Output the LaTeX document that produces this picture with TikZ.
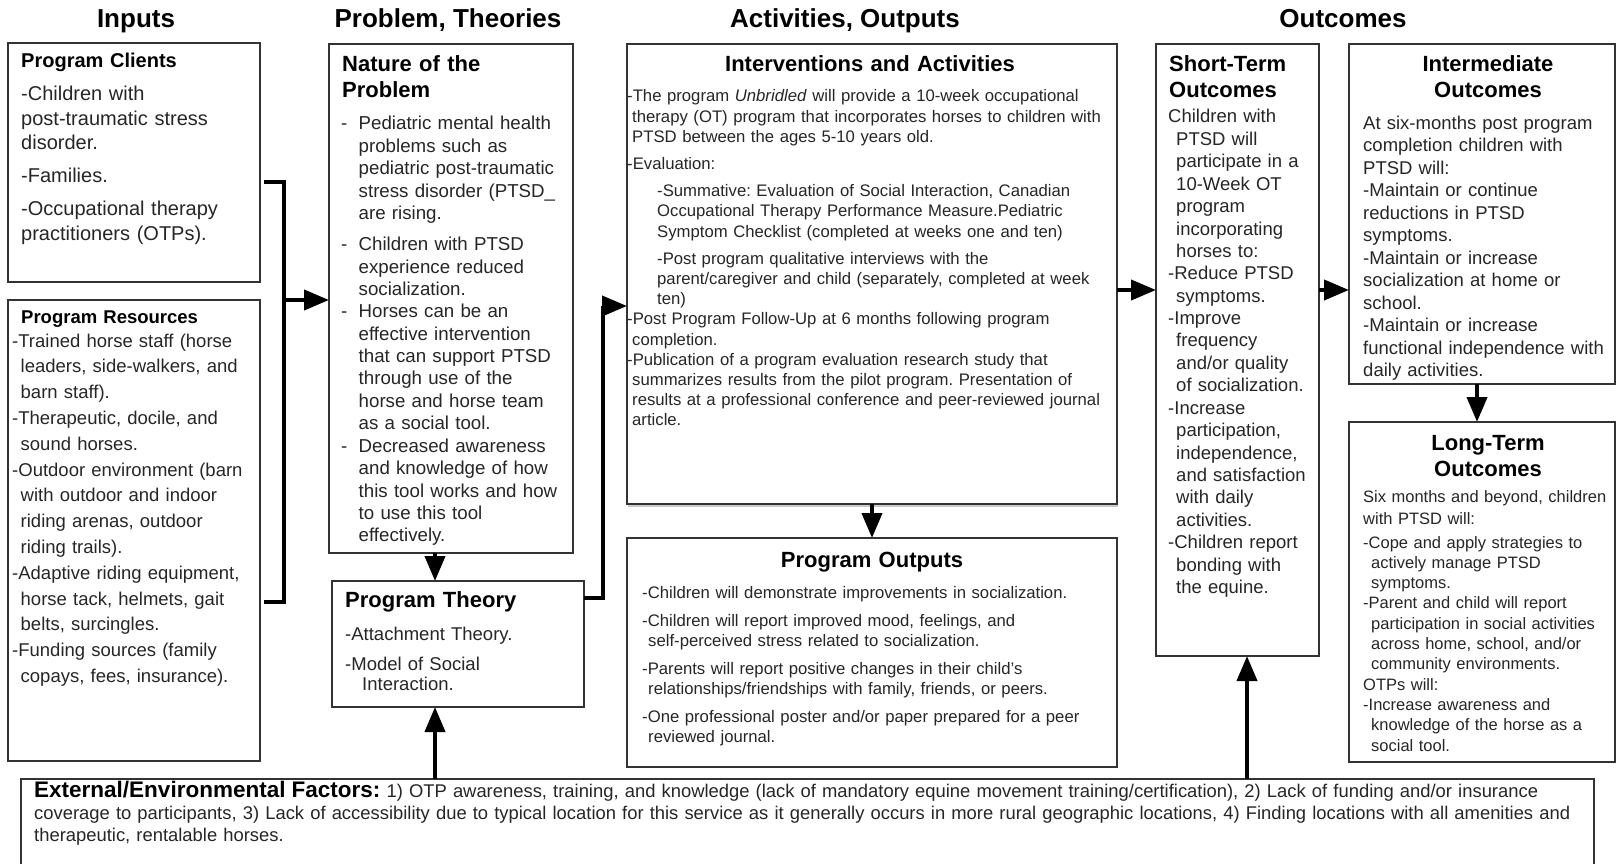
\documentclass[tikz,border=0pt]{standalone}
\usepackage{fontspec}
\setmainfont{Liberation Sans}
\usetikzlibrary{arrows.meta,calc,shadows}
\newcommand\myind[1]{\hspace*{#1pt}}
\newcommand\mybul{\makebox[17.5pt][l]{-}}
\frenchspacing
\begin{document}
\frenchspacing
\begin{tikzpicture}[x=1pt,y=-1pt,
  box/.style={draw=black!80,line width=1.5pt,fill=white,inner sep=0pt,outer sep=0pt,anchor=north west},
  hdr/.style={anchor=base,inner sep=0pt,font=\fontsize{26}{30}\selectfont\bfseries},
  ttl/.style={anchor=base west,inner sep=0pt,align=left,text width=#1},
  ctl/.style={anchor=base,inner sep=0pt,align=center,text width=#1,font=\fontsize{22}{26}\selectfont\bfseries},
  txt/.style={anchor=base west,inner sep=0pt,align=left,text width=#1,text=black!85},
  conn/.style={line width=4pt,black},
  arr/.style={conn,-{Triangle[length=25pt,width=20pt]}}]
\fill[white] (0,0) rectangle (1616,864);
\useasboundingbox (0,0) rectangle (1616,864);

% headers
\node[hdr] (hIn) at (136,28) {Inputs};
\node[hdr] (hPr) at (448,28) {Problem, Theories};
\node[hdr] (hAc) at (845,28) {Activities, Outputs};
\node[hdr] (hOu) at (1343,28) {Outcomes};

% boxes
\node[box,minimum width=252pt,minimum height=239pt] (clients) at (8,43) {};
\node[box,minimum width=252pt,minimum height=461pt] (resources) at (8,300) {};
\node[box,minimum width=244pt,minimum height=509pt] (nature) at (329,44) {};
\node[box,minimum width=252pt,minimum height=126pt] (theory) at (332,581) {};
\node[box,minimum width=490pt,minimum height=460pt,drop shadow={shadow xshift=0.5pt,shadow yshift=-2.5pt,opacity=0.35,fill=black!60}] (interv) at (627,44) {};
\node[box,minimum width=490pt,minimum height=229pt] (outputs) at (627,538) {};
\node[box,minimum width=163pt,minimum height=612pt] (short) at (1156,44) {};
\node[box,minimum width=266pt,minimum height=340pt] (inter) at (1349,44) {};
\node[box,minimum width=266pt,minimum height=340pt] (long) at (1349,422) {};
\node[box,minimum width=1573pt,minimum height=88pt] (external) at (21,779) {};

% Program Clients
\node[ttl=235pt,font=\fontsize{20}{24}\selectfont\bfseries] (clientsT) at (21,68) {Program Clients};
\node[txt=236pt,font=\fontsize{20}{24.5}\selectfont] (clientsB) at (21,101) {%
-Children with\\
post-traumatic stress\\
disorder.\\[8.5pt]
-Families.\\[8pt]
-Occupational therapy\\
practitioners (OTPs).};

% Program Resources
\node[ttl=235pt,font=\fontsize{18.5}{22}\selectfont\bfseries] (resT) at (21,323) {Program Resources};
\node[txt=245pt,font=\fontsize{18.5}{25.8}\selectfont] (resB) at (12,347) {%
-Trained horse staff (horse\\
\myind{8.5}leaders, side-walkers, and\\
\myind{8.5}barn staff).\\
-Therapeutic, docile, and\\
\myind{8.5}sound horses.\\
-Outdoor environment (barn\\
\myind{8.5}with outdoor and indoor\\
\myind{8.5}riding arenas, outdoor\\
\myind{8.5}riding trails).\\
-Adaptive riding equipment,\\
\myind{8.5}horse tack, helmets, gait\\
\myind{8.5}belts, surcingles.\\
-Funding sources (family\\
\myind{8.5}copays, fees, insurance).};

% Nature of the Problem
\node[ttl=225pt,font=\fontsize{22}{26}\selectfont\bfseries] (natT) at (342,72) {Nature of the\\Problem};
\node[txt=228pt,font=\fontsize{18.7}{22.4}\selectfont] (natB) at (341,130) {%
\mybul Pediatric mental health\\
\myind{17.5}problems such as\\
\myind{17.5}pediatric post-traumatic\\
\myind{17.5}stress disorder (PTSD\_\\
\myind{17.5}are rising.\\[8.6pt]
\mybul Children with PTSD\\
\myind{17.5}experience reduced\\
\myind{17.5}socialization.\\
\mybul Horses can be an\\
\myind{17.5}effective intervention\\
\myind{17.5}that can support PTSD\\
\myind{17.5}through use of the\\
\myind{17.5}horse and horse team\\
\myind{17.5}as a social tool.\\
\mybul Decreased awareness\\
\myind{17.5}and knowledge of how\\
\myind{17.5}this tool works and how\\
\myind{17.5}to use this tool\\
\myind{17.5}effectively.};

% Program Theory
\node[ttl=235pt,font=\fontsize{22}{26}\selectfont\bfseries] (thT) at (345,607) {Program Theory};
\node[txt=235pt,font=\fontsize{18.5}{20}\selectfont] (thB) at (345,640) {%
-Attachment Theory.\\[10pt]
-Model of Social\\
\myind{17}Interaction.};

% Interventions and Activities
\node[ctl=480pt] (intT) at (870,72) {Interventions and Activities};
\node[txt=487pt,font=\fontsize{16.7}{20.2}\selectfont] (intB) at (627,102) {%
-The program \textit{Unbridled} will provide a 10-week occupational\\
\myind{5}therapy (OT) program that incorporates horses to children with\\
\myind{5}PTSD between the ages 5-10 years old.\\[7pt]
-Evaluation:\\[7pt]
\myind{30}-Summative: Evaluation of Social Interaction, Canadian\\
\myind{30}Occupational Therapy Performance Measure.Pediatric\\
\myind{30}Symptom Checklist (completed at weeks one and ten)\\[7pt]
\myind{30}-Post program qualitative interviews with the\\
\myind{30}parent/caregiver and child (separately, completed at week\\
\myind{30}ten)\\
-Post Program Follow-Up at 6 months following program\\
\myind{5}completion.\\
-Publication of a program evaluation research study that\\
\myind{5}summarizes results from the pilot program. Presentation of\\
\myind{5}results at a professional conference and peer-reviewed journal\\
\myind{5}article.};

% Program Outputs
\node[ctl=480pt] (outT) at (872,567) {Program Outputs};
\node[txt=470pt,font=\fontsize{16.7}{20}\selectfont] (outB) at (642,598) {%
-Children will demonstrate improvements in socialization.\\[8.5pt]
-Children will report improved mood, feelings, and\\
\myind{6}self-perceived stress related to socialization.\\[8pt]
-Parents will report positive changes in their child’s\\
\myind{6}relationships/friendships with family, friends, or peers.\\[8pt]
-One professional poster and/or paper prepared for a peer\\
\myind{6}reviewed journal.};

% Short-Term Outcomes
\node[ttl=150pt,font=\fontsize{22}{26}\selectfont\bfseries] (shT) at (1169,72) {Short-Term\\Outcomes};
\node[txt=150pt,font=\fontsize{18.5}{22.4}\selectfont] (shB) at (1168,123) {%
Children with\\
\myind{8}PTSD will\\
\myind{8}participate in a\\
\myind{8}10-Week OT\\
\myind{8}program\\
\myind{8}incorporating\\
\myind{8}horses to:\\
-Reduce PTSD\\
\myind{8}symptoms.\\
-Improve\\
\myind{8}frequency\\
\myind{8}and/or quality\\
\myind{8}of socialization.\\
-Increase\\
\myind{8}participation,\\
\myind{8}independence,\\
\myind{8}and satisfaction\\
\myind{8}with daily\\
\myind{8}activities.\\
-Children report\\
\myind{8}bonding with\\
\myind{8}the equine.};

% Intermediate Outcomes
\node[ctl=250pt] (imT) at (1488,72) {Intermediate\\Outcomes};
\node[txt=250pt,font=\fontsize{18.5}{22.5}\selectfont] (imB) at (1363,129) {%
At six-months post program\\
completion children with\\
PTSD will:\\
-Maintain or continue\\
reductions in PTSD\\
symptoms.\\
-Maintain or increase\\
socialization at home or\\
school.\\
-Maintain or increase\\
functional independence with\\
daily activities.};

% Long-Term Outcomes
\node[ctl=250pt] (ltT) at (1488,450) {Long-Term\\Outcomes};
\node[txt=250pt,font=\fontsize{16.5}{20.3}\selectfont] (ltB) at (1363,502) {%
Six months and beyond, children\\[1.7pt]
with PTSD will:\\[3.7pt]
-Cope and apply strategies to\\
\myind{8}actively manage PTSD\\
\myind{8}symptoms.\\
-Parent and child will report\\
\myind{8}participation in social activities\\
\myind{8}across home, school, and/or\\
\myind{8}community environments.\\
OTPs will:\\
-Increase awareness and\\
\myind{8}knowledge of the horse as a\\
\myind{8}social tool.};

% External factors
\node[txt=1558pt,font=\fontsize{18.4}{22}\selectfont] (extB) at (34,797) {%
{\color{black}\fontsize{22.5}{22}\selectfont\bfseries External/Environmental Factors:} 1) OTP awareness, training, and knowledge (lack of mandatory equine movement training/certification), 2) Lack of funding and/or insurance\\
coverage to participants, 3) Lack of accessibility due to typical location for this service as it generally occurs in more rural geographic locations, 4) Finding locations with all amenities and\\
therapeutic, rentalable horses.};

% connectors
\coordinate (bkT) at (284,182);
\coordinate (bkB) at (284,602);
\coordinate (bkM) at (284,300);
\draw[conn] ($(clients.east |- bkT)+(4,0)$) -- (bkT) -- (bkB) -- ($(resources.east |- bkB)+(4,0)$);
\draw[arr] (bkM) -- (nature.west |- bkM);

\coordinate (axA) at (435,0);
\draw[arr] (nature.south -| axA) -- (theory.north -| axA);
\draw[arr] (external.north -| axA) -- (theory.south -| axA);

\coordinate (tiA) at (603,598);
\coordinate (tiB) at (603,306);
\draw[arr] (theory.east |- tiA) -- (tiA) -- (tiB) -- (interv.west |- tiB);

\draw[arr] (interv.south) -- (outputs.north);

\coordinate (hY) at (0,290);
\draw[arr] (interv.east |- hY) -- (short.west |- hY);
\draw[arr] (short.east |- hY) -- (inter.west |- hY);

\coordinate (axB) at (1477,0);
\draw[arr] (inter.south -| axB) -- (long.north -| axB);

\coordinate (axC) at (1247,0);
\draw[arr] (external.north -| axC) -- (short.south -| axC);
\end{tikzpicture}
\end{document}
